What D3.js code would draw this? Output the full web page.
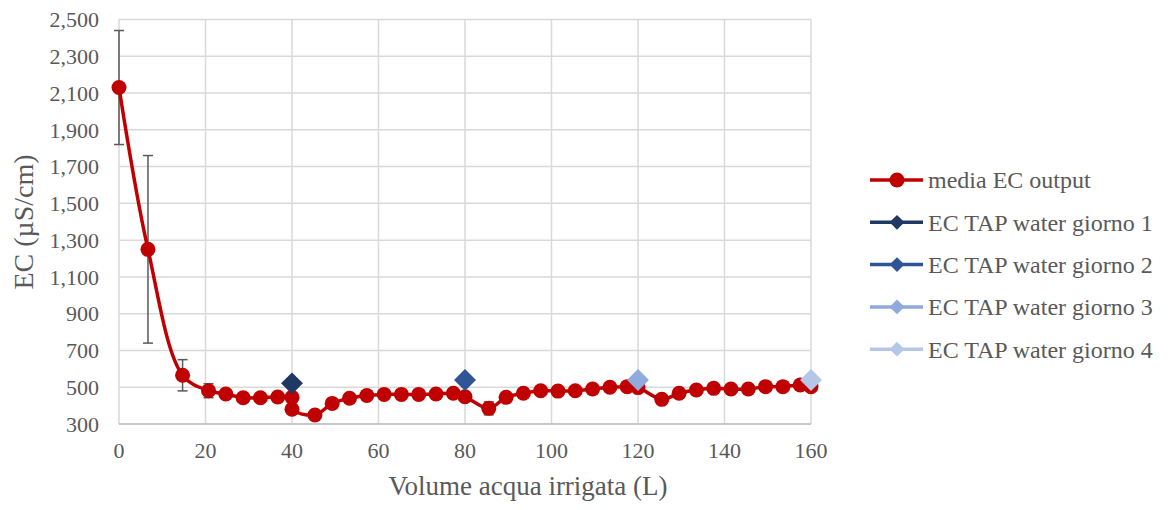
<!DOCTYPE html>
<html>
<head>
<meta charset="utf-8">
<script src="https://cdn.jsdelivr.net/npm/d3@7"></script>
<style>
  body { margin: 0; background: #fff; }
  svg text { font-family: "Liberation Serif", "Times New Roman", serif; fill: #595959; }
</style>
</head>
<body>
<svg id="chart" width="1168" height="510"></svg>
<script>
// volume irrigated (L) and mean EC output (uS/cm)
var volume = [0, 6.7, 14.7, 20.7, 24.7, 28.7, 32.7, 36.7, 40, 40,
              45.3, 49.3, 53.3, 57.3, 61.3, 65.3, 69.3, 73.3, 77.3, 80,
              85.5, 89.5, 93.5, 97.5, 101.5, 105.5, 109.5, 113.5, 117.5, 120,
              125.5, 129.5, 133.5, 137.5, 141.5, 145.5, 149.5, 153.5, 157.5, 160];
var ecMedia = [2130, 1250, 565, 481, 463, 443, 443, 447, 445, 380,
               349, 412, 440, 455, 461, 461, 461, 463, 467, 448,
               385, 445, 467, 481, 479, 481, 490, 500, 503, 498,
               434, 467, 485, 494, 490, 490, 503, 503, 512, 503];
var ecErr = [310, 510, 85, 38, 15, 15, 15, 15, 15, 15,
             15, 15, 15, 15, 15, 15, 15, 15, 15, 15,
             35, 15, 15, 15, 15, 15, 15, 15, 15, 15,
             15, 15, 15, 15, 15, 15, 15, 15, 15, 15];

// tap water EC, one value per day
var tapNames = ["EC TAP water giorno 1", "EC TAP water giorno 2", "EC TAP water giorno 3", "EC TAP water giorno 4"];
var tapVolume = [40, 80, 120, 160];
var tapEC = [521, 539, 539, 539];
var tapColors = ["#1F3864", "#2F5597", "#8FAADC", "#B4C7E7"];

var xTicks = [0, 20, 40, 60, 80, 100, 120, 140, 160];
var yTicks = [300, 500, 700, 900, 1100, 1300, 1500, 1700, 1900, 2100, 2300, 2500];

var red = "#C00000";
var margin = {top: 19.5, left: 119, right: 357, bottom: 86};
var width = 1168 - margin.left - margin.right,
    height = 510 - margin.top - margin.bottom;

var svg = d3.select("#chart");
var g = svg.append("g").attr("transform", "translate(" + margin.left + "," + margin.top + ")");

var x = d3.scaleLinear().domain([0, 160]).range([0, width]);
var y = d3.scaleLinear().domain([300, 2500]).range([height, 0]);
var fmt = d3.format(",");

// grid
g.selectAll(".hgrid").data(yTicks).enter().append("line")
    .attr("x1", 0).attr("x2", width)
    .attr("y1", function(d){ return y(d); }).attr("y2", function(d){ return y(d); })
    .attr("stroke", "#D9D9D9").attr("stroke-width", 1.5);
g.selectAll(".vgrid").data(xTicks).enter().append("line")
    .attr("x1", function(d){ return x(d); }).attr("x2", function(d){ return x(d); })
    .attr("y1", 0).attr("y2", height)
    .attr("stroke", "#D9D9D9").attr("stroke-width", 1.5);
g.append("line").attr("x1", 0).attr("x2", width).attr("y1", height).attr("y2", height)
    .attr("stroke", "#BFBFBF").attr("stroke-width", 1.5);

// tick labels
g.selectAll(".ylab").data(yTicks).enter().append("text")
    .attr("x", -20).attr("y", function(d){ return y(d); })
    .attr("dy", "0.35em").attr("text-anchor", "end")
    .attr("font-size", "22px")
    .text(function(d){ return fmt(d); });
g.selectAll(".xlab").data(xTicks).enter().append("text")
    .attr("x", function(d){ return x(d); }).attr("y", height + 34)
    .attr("text-anchor", "middle")
    .attr("font-size", "22px")
    .text(function(d){ return d; });

// axis titles
g.append("text")
    .attr("x", 528 - margin.left).attr("y", height + 70.5)
    .attr("text-anchor", "middle").attr("font-size", "27px")
    .text("Volume acqua irrigata (L)");
g.append("text")
    .attr("transform", "translate(" + (33 - margin.left) + "," + (222 - margin.top) + ") rotate(-90)")
    .attr("text-anchor", "middle").attr("font-size", "28px")
    .text("EC (µS/cm)");

// error bars
var pts = volume.map(function(v, i){ return {x: v, y: ecMedia[i], e: ecErr[i]}; });
var eb = g.append("g").attr("stroke", "#595959").attr("stroke-width", 1.5);
pts.forEach(function(p){
    var xp = x(p.x), yt = y(p.y + p.e), yb = y(p.y - p.e);
    eb.append("line").attr("x1", xp).attr("x2", xp).attr("y1", yt).attr("y2", yb);
    eb.append("line").attr("x1", xp - 5).attr("x2", xp + 5).attr("y1", yt).attr("y2", yt);
    eb.append("line").attr("x1", xp - 5).attr("x2", xp + 5).attr("y1", yb).attr("y2", yb);
});

// smoothed line
var line = d3.line()
    .x(function(d){ return x(d.x); })
    .y(function(d){ return y(d.y); })
    .curve(d3.curveCatmullRom.alpha(0.5));
g.append("path").datum(pts)
    .attr("fill", "none").attr("stroke", red).attr("stroke-width", 3.5)
    .attr("d", line);
g.selectAll(".dot").data(pts).enter().append("circle")
    .attr("cx", function(d){ return x(d.x); })
    .attr("cy", function(d){ return y(d.y); })
    .attr("r", 7.5).attr("fill", red);

// tap water diamonds
var diamond = d3.symbol().type(d3.symbolSquare).size(240);
tapVolume.forEach(function(v, i){
    g.append("path")
        .attr("d", diamond)
        .attr("transform", "translate(" + x(v) + "," + y(tapEC[i]) + ") rotate(45)")
        .attr("fill", tapColors[i]);
});

// legend
var legNames = ["media EC output"].concat(tapNames);
var legColors = [red].concat(tapColors);
var leg = svg.append("g").attr("transform", "translate(870,180)");
legNames.forEach(function(n, i){
    var row = leg.append("g").attr("transform", "translate(0," + (i * 42.3) + ")");
    row.append("line").attr("x1", 0).attr("x2", 53).attr("y1", 0).attr("y2", 0)
        .attr("stroke", legColors[i]).attr("stroke-width", 3.5);
    if (i === 0) {
        row.append("circle").attr("cx", 27).attr("cy", 0).attr("r", 7.5).attr("fill", red);
    } else {
        row.append("path").attr("d", d3.symbol().type(d3.symbolSquare).size(110))
            .attr("transform", "translate(27,0) rotate(45)").attr("fill", legColors[i]);
    }
    row.append("text").attr("x", 58).attr("y", 0).attr("dy", "0.35em")
        .attr("font-size", "24px").text(n);
});
</script>
</body>
</html>
